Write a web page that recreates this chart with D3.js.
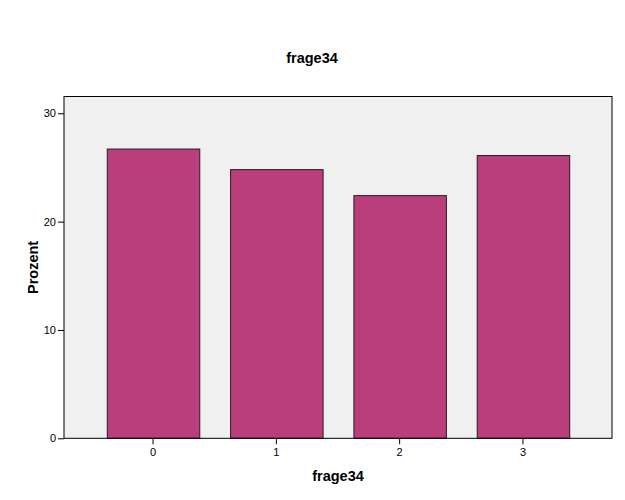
<!DOCTYPE html>
<html>
<head>
<meta charset="utf-8">
<script src="https://cdn.jsdelivr.net/npm/d3@7"></script>
<style>
  html, body { margin: 0; padding: 0; background: #ffffff; }
  svg { display: block; font-family: "Liberation Sans", Arial, sans-serif; }
</style>
</head>
<body>
<svg id="chart" width="625" height="500"></svg>
<script>
const categories = ["0", "1", "2", "3"];
const values = [26.7, 24.8, 22.4, 26.1];
const yTicks = [0, 10, 20, 30];
const title = "frage34";
const xLabel = "frage34";
const yLabel = "Prozent";

(function () {
const svg = d3.select("#chart");
const pLeft = 64, pRight = 612, pTop = 96.5, pBottom = 438.3;

const x = d3.scaleBand().domain(categories).range([pLeft, pRight])
  .paddingInner(0.25).paddingOuter(0.347);
const y = d3.scaleLinear().domain([0, 31.55]).range([pBottom, pTop]);

svg.append("rect").attr("x", pLeft).attr("y", pTop)
  .attr("width", pRight - pLeft).attr("height", pBottom - pTop)
  .attr("fill", "#f0f0f0");

svg.append("g").selectAll("rect").data(values).join("rect")
  .attr("x", (d, i) => x(categories[i]) + 0.5)
  .attr("y", d => y(d))
  .attr("width", x.bandwidth())
  .attr("height", d => pBottom - y(d))
  .attr("fill", "#bb3e7c")
  .attr("stroke", "#2a1a22")
  .attr("stroke-width", 1);

svg.append("rect").attr("x", pLeft).attr("y", pTop)
  .attr("width", pRight - pLeft).attr("height", pBottom - pTop)
  .attr("fill", "none").attr("stroke", "#000").attr("stroke-width", 1);

const yAxis = svg.append("g").attr("transform", `translate(${pLeft},0)`)
  .call(d3.axisLeft(y).tickValues(yTicks).tickSize(6).tickPadding(2).tickFormat(d3.format("d")));
yAxis.select(".domain").remove();
yAxis.selectAll("text").attr("font-size", 11).attr("font-family", "Liberation Sans, Arial, sans-serif").attr("fill", "#000");

const xAxis = svg.append("g").attr("transform", `translate(0,${pBottom})`)
  .call(d3.axisBottom(x).tickSize(6).tickPadding(4));
xAxis.select(".domain").remove();
xAxis.selectAll("text").attr("font-size", 11).attr("font-family", "Liberation Sans, Arial, sans-serif").attr("fill", "#000");

svg.append("text").attr("x", 312).attr("y", 63).attr("text-anchor", "middle")
  .attr("font-size", 14.5).attr("font-weight", "bold").text(title);
svg.append("text").attr("x", (pLeft + pRight) / 2).attr("y", 481).attr("text-anchor", "middle")
  .attr("font-size", 14.5).attr("font-weight", "bold").text(xLabel);
svg.append("text").attr("transform", `translate(38,${(pTop + pBottom) / 2}) rotate(-90)`)
  .attr("text-anchor", "middle")
  .attr("font-size", 14.5).attr("font-weight", "bold").text(yLabel);
})();
</script>
</body>
</html>
